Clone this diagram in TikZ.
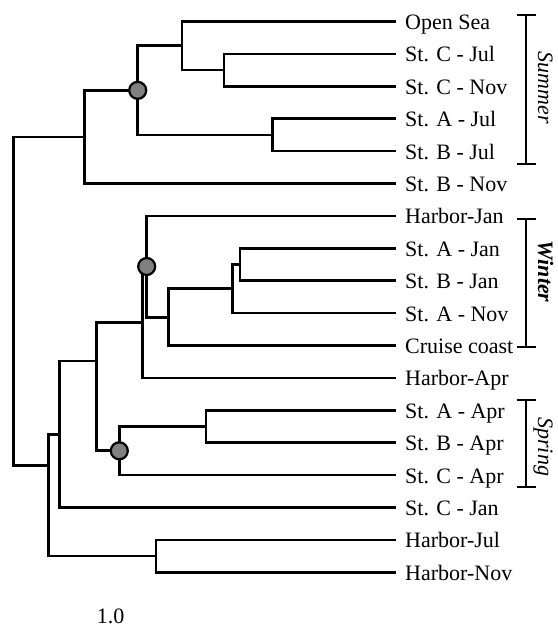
\documentclass[tikz,border=0pt]{standalone}
\usepackage{fontspec}
\setmainfont{Liberation Serif}
\begin{document}
\begin{tikzpicture}[x=1pt,y=-1pt,
  branch/.style={line width=2.7pt},
  bracketline/.style={line width=2.7pt},
  bootdot/.style={circle,draw,line width=2.2pt,fill=black!50,minimum size=17pt,inner sep=0pt},
  leaflabel/.style={anchor=base west,inner sep=0pt,font=\fontsize{22}{26}\selectfont},
  seasonlabel/.style={rotate=-90,anchor=base,inner sep=0pt,font=\fontsize{22}{26}\selectfont\itshape}]
\useasboundingbox (0,0) rectangle (557,628);

% leaves: end points of the terminal branches and their labels
\foreach \lab [count=\i from 0] in {Open Sea, St. C - Jul, St. C - Nov, St. A - Jul,
    St. B - Jul, St. B - Nov, Harbor-Jan, St. A - Jan, St. B - Jan, St. A - Nov,
    Cruise coast, Harbor-Apr, St. A - Apr, St. B - Apr, St. C - Apr, St. C - Jan,
    Harbor-Jul, Harbor-Nov} {
  \pgfmathsetmacro\yy{21.5+32.4*\i}
  \coordinate (e\i) at (396,\yy);
  \node[leaflabel] (t\i) at (405,\yy+8) {\lab};
}

% internal nodes of the dendrogram
\coordinate (D)  at (224,70.1);
\coordinate (B)  at (182,45.8);
\coordinate (C)  at (272.7,134.9);
\coordinate (M)  at (137.7,90.35);
\coordinate (A)  at (84.3,136.9);
\coordinate (S)  at (240,264.5);
\coordinate (R)  at (232.3,288.8);
\coordinate (Q)  at (168.3,317.2);
\coordinate (W)  at (146.7,266.5);
\coordinate (P)  at (142.3,322.2);
\coordinate (V)  at (206,426.5);
\coordinate (Sp) at (119.3,450.8);
\coordinate (T)  at (96.7,361);
\coordinate (U)  at (59.8,434.3);
\coordinate (Hm) at (156,556.1);
\coordinate (X)  at (48.3,465.7);
\coordinate (Rt) at (13.3,300);

% branches
\draw[branch] (D) |- (e1)  (D) |- (e2);
\draw[branch] (B) |- (e0)  (B) |- (D);
\draw[branch] (C) |- (e3)  (C) |- (e4);
\draw[branch] (M) |- (B)   (M) |- (C);
\draw[branch] (A) |- (M)   (A) |- (e5);
\draw[branch] (S) |- (e7)  (S) |- (e8);
\draw[branch] (R) |- (S)   (R) |- (e9);
\draw[branch] (Q) |- (R)   (Q) |- (e10);
\draw[branch] (W) |- (e6)  (W) |- (Q);
\draw[branch] (P) |- (W)   (P) |- (e11);
\draw[branch] (V) |- (e12) (V) |- (e13);
\draw[branch] (Sp) |- (V)  (Sp) |- (e14);
\draw[branch] (T) |- (P)   (T) |- (Sp);
\draw[branch] (U) |- (T)   (U) |- (e15);
\draw[branch] (Hm) |- (e16) (Hm) |- (e17);
\draw[branch] (X) |- (U)   (X) |- (Hm);
\draw[branch] (Rt) |- (A)  (Rt) |- (X);

% supported clusters
\node[bootdot] (dotsummer) at (M) {};
\node[bootdot] (dotwinter) at (W) {};
\node[bootdot] (dotspring) at (Sp) {};

% season brackets
\draw[bracketline] (516.5,15) -- (535.5,15) (526,15) -- (526,164) (516.5,164) -- (535.5,164);
\draw[bracketline] (516.5,219) -- (535.5,219) (526,219) -- (526,347) (516.5,347) -- (535.5,347);
\draw[bracketline] (516.5,400) -- (535.5,400) (526,400) -- (526,487) (516.5,487) -- (535.5,487);
\node[seasonlabel] (summer) at (538,88) {Summer};
\node[seasonlabel,font=\fontsize{22}{26}\selectfont\bfseries\itshape] (winter) at (538,271.7) {Winter};
\node[seasonlabel] (spring) at (538,446.7) {Spring};

% scale value
\node[anchor=base,inner sep=0pt,font=\fontsize{22}{26}\selectfont] (scaleval) at (110.7,623) {1.0};
\end{tikzpicture}
\end{document}
